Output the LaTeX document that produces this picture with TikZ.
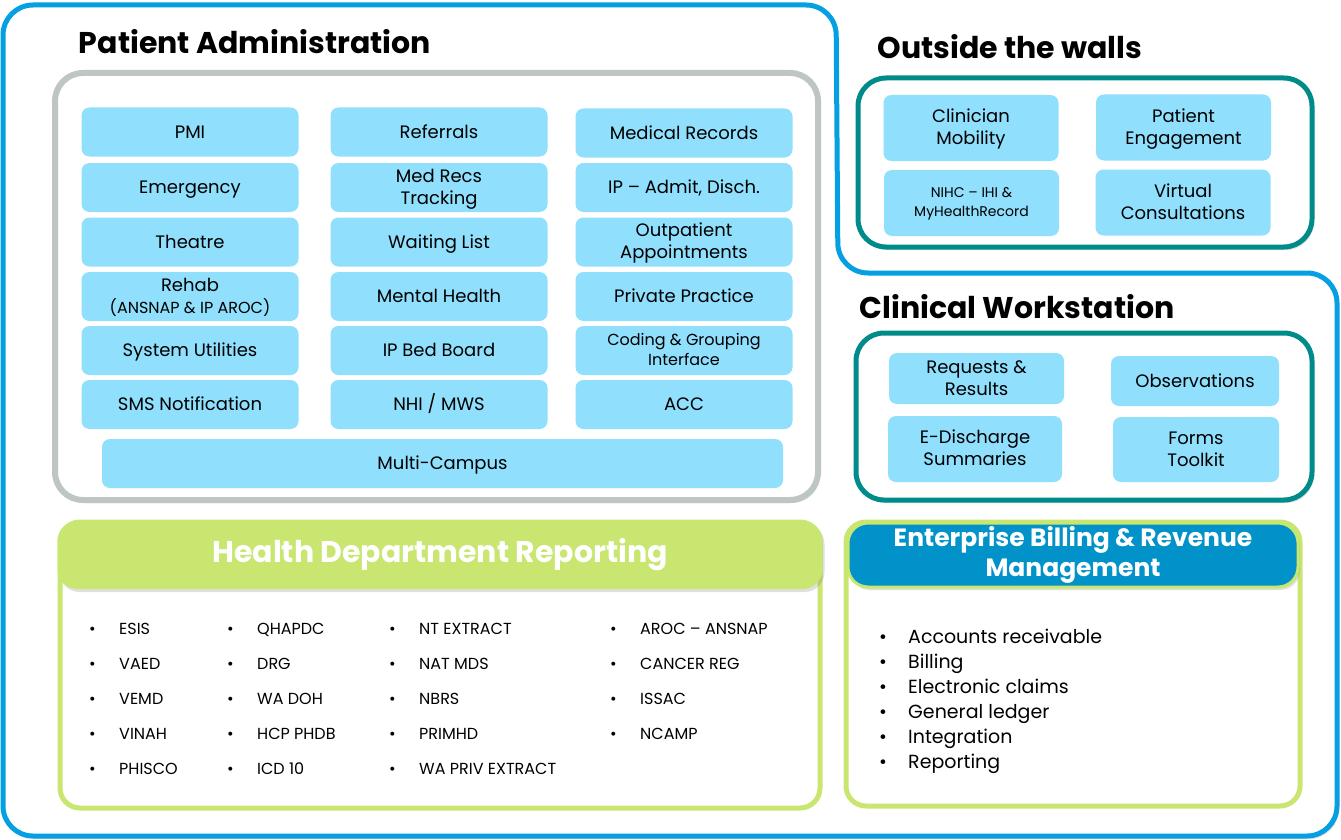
\documentclass[tikz,border=0pt]{standalone}
\usepackage{fontspec}
\setmainfont{Poppins}
\usetikzlibrary{shadows}
\definecolor{frameblue}{RGB}{5,160,225}
\definecolor{cellblue}{RGB}{143,223,253}
\definecolor{boxgray}{RGB}{190,198,196}
\definecolor{boxteal}{RGB}{0,139,139}
\definecolor{boxlime}{RGB}{200,230,112}
\definecolor{headblue}{RGB}{0,146,200}
\newcommand{\twolines}[2]{\rule{0pt}{1em}#1\\#2\rule[-.3em]{0pt}{.3em}}
\begin{document}
\begin{tikzpicture}[x=1pt,y=-1pt,
  soft/.style={drop shadow={opacity=0.25,shadow xshift=2pt,shadow yshift=-3pt}},
  title/.style={font=\fontsize{30}{34}\selectfont\bfseries},
  cell/.style={fill=cellblue,rounded corners=8pt,inner sep=0pt,align=center,
    minimum width=217pt,minimum height=49pt,font=\fontsize{18}{22}\selectfont,
    execute at begin node=\rule{0pt}{1.05em},execute at end node=\rule[-.37em]{0pt}{.37em}},
  owcell/.style={cell,minimum width=175pt,minimum height=66pt},
  hditem/.style={anchor=base west,inner sep=0pt,font=\fontsize{16}{19}\selectfont},
  ebitem/.style={anchor=base west,inner sep=0pt,font=\fontsize{19}{22}\selectfont}]
\useasboundingbox (0,0) rectangle (1341,840);

% outer frame
\draw[frameblue,line width=5pt,rounded corners=30pt,soft,fill=white]
  (3,5) -- (836,5) -- (838,273) -- (1337,273) -- (1337,836) -- (3,836) -- cycle;

% patient administration
\node[title] (patadmin) at (255,42) {Patient Administration};
\draw[boxgray,line width=6pt,rounded corners=28pt,soft,fill=white] (55,73) rectangle (818,500);

\node[cell] (pmi) at (190,132) {PMI};
\node[cell] (emerg) at (190,187.5) {Emergency};
\node[cell] (theatre) at (190,242) {Theatre};
\node[cell] (rehab) at (190,296.5) {\twolines{Rehab}{{\fontsize{16}{19}\selectfont(ANSNAP \& IP AROC)}}};
\node[cell] (sysutil) at (190,350.5) {System Utilities};
\node[cell] (sms) at (190,404.5) {SMS Notification};

\node[cell] (referrals) at (439,132) {Referrals};
\node[cell] (medtrack) at (439,187.5) {\twolines{Med Recs}{Tracking}};
\node[cell] (waiting) at (439,242) {Waiting List};
\node[cell] (mental) at (439,296.5) {Mental Health};
\node[cell] (bedboard) at (439,350.5) {IP Bed Board};
\node[cell] (nhi) at (439,404.5) {NHI / MWS};

\node[cell] (medrec) at (684,133) {Medical Records};
\node[cell] (admit) at (684,187.5) {IP – Admit, Disch.};
\node[cell] (outpat) at (684,242) {\twolines{Outpatient}{Appointments}};
\node[cell] (private) at (684,296.5) {Private Practice};
\node[cell,font=\fontsize{16}{20}\selectfont] (coding) at (684,350.5) {\twolines{Coding \& Grouping}{Interface}};
\node[cell] (acc) at (684,404.5) {ACC};

\node[cell,minimum width=681pt] (campus) at (442.5,463.5) {Multi-Campus};

% outside the walls
\node[title] (outside) at (1010,47) {Outside the walls};
\draw[boxteal,line width=5pt,rounded corners=28pt,soft,fill=white] (858,78) rectangle (1312,247);
\node[owcell] (mobility) at (971,128) {\twolines{Clinician}{Mobility}};
\node[owcell] (engage) at (1183.5,127.5) {\twolines{Patient}{Engagement}};
\node[owcell,font=\fontsize{14}{19}\selectfont] (nihc) at (971.5,203) {\twolines{NIHC – IHI \&}{MyHealthRecord}};
\node[owcell] (virtual) at (1183,202.5) {\twolines{Virtual}{Consultations}};

% clinical workstation
\node[title] (clinical) at (1017,307) {Clinical Workstation};
\draw[boxteal,line width=5pt,rounded corners=28pt,soft,fill=white] (856,333) rectangle (1312,500);
\node[owcell,minimum height=51pt] (requests) at (976.5,378.5) {\twolines{Requests \&}{Results}};
\node[cell,minimum width=168pt,minimum height=50pt] (observ) at (1195,381) {Observations};
\node[owcell,minimum width=174pt] (edisch) at (975,449) {\twolines{E-Discharge}{Summaries}};
\node[owcell,minimum width=166pt,minimum height=65pt] (forms) at (1196,449.5) {\twolines{Forms}{Toolkit}};

% health department reporting
\draw[boxlime,line width=5pt,rounded corners=20pt,fill=white] (60,522) rectangle (820,808);
\node[fill=boxlime,rounded corners=20pt,minimum width=765pt,minimum height=68pt,soft,
  text=white,title] (hdr) at (440,555) {Health Department Reporting};
\foreach \t [count=\i] in {ESIS,VAED,VEMD,VINAH,PHISCO}
  \node[hditem] (hda\i) at (89,599+35*\i) {\makebox[30pt][l]{\textbullet}\t};
\foreach \t [count=\i] in {QHAPDC,DRG,WA DOH,HCP PHDB,ICD 10}
  \node[hditem] (hdb\i) at (227,599+35*\i) {\makebox[30pt][l]{\textbullet}\t};
\foreach \t [count=\i] in {NT EXTRACT,NAT MDS,NBRS,PRIMHD,WA PRIV EXTRACT}
  \node[hditem] (hdc\i) at (389,599+35*\i) {\makebox[30pt][l]{\textbullet}\t};
\foreach \t [count=\i] in {AROC – ANSNAP,CANCER REG,ISSAC,NCAMP}
  \node[hditem] (hdd\i) at (610,599+35*\i) {\makebox[30pt][l]{\textbullet}\t};

% enterprise billing
\draw[boxlime,line width=5pt,rounded corners=20pt,fill=white] (846,522) rectangle (1300,806);
\node[fill=headblue,draw=boxlime,line width=3pt,rounded corners=20pt,minimum width=450pt,
  minimum height=64pt,soft,text=white,align=center,
  font=\fontsize{25}{30}\selectfont\bfseries] (ebrm) at (1073,555) {Enterprise Billing \& Revenue\\Management};
\foreach \t [count=\i] in {Accounts receivable,Billing,Electronic claims,General ledger,Integration,Reporting}
  \node[ebitem] (eb\i) at (879,618+25*\i) {\makebox[29pt][l]{\textbullet}\t};
\end{tikzpicture}
\end{document}
